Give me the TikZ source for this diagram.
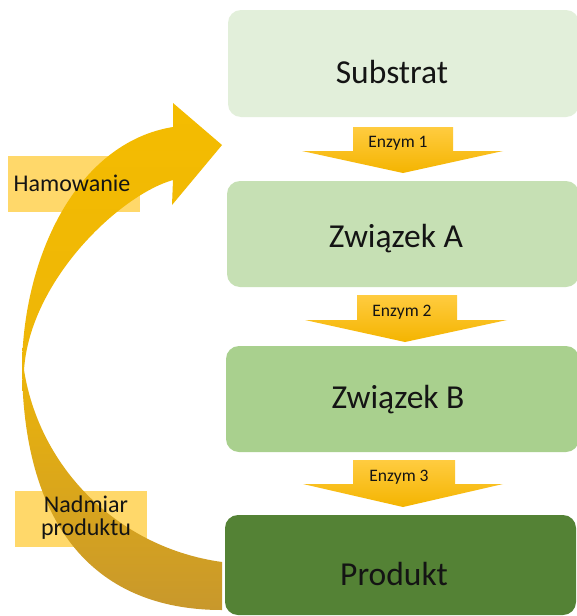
\documentclass[tikz,border=0pt]{standalone}
\usepackage{fontspec}
\setmainfont{Carlito}
\definecolor{cSub}{RGB}{226,239,218}
\definecolor{cA}{RGB}{198,224,180}
\definecolor{cB}{RGB}{169,208,142}
\definecolor{cProd}{RGB}{84,130,53}
\definecolor{goldTop}{RGB}{244,188,0}
\definecolor{goldMid}{RGB}{238,182,8}
\definecolor{goldBot}{RGB}{200,152,44}
\definecolor{enzTop}{RGB}{255,204,64}
\definecolor{enzBot}{RGB}{244,180,0}
\definecolor{labelBox}{RGB}{255,216,106}
\definecolor{txt}{RGB}{20,20,20}
\begin{document}
\begin{tikzpicture}[x=1pt,y=-1pt,
  stagebox/.style={fill=#1, draw=none, rounded corners=13pt},
  bigtext/.style={text=txt, font=\fontsize{33.5}{38}\selectfont},
  enztext/.style={text=txt, font=\fontsize{17.5}{20}\selectfont},
  sidetext/.style={text=txt, font=\fontsize{24}{28}\selectfont, align=center},
  enzarrow/.style={top color=enzTop, bottom color=enzBot, draw=none},
  sidebox/.style={fill=labelBox, draw=none}]
\useasboundingbox (0,0) rectangle (577,616);
\fill[white] (0,0) rectangle (577,616);

% stage boxes
\fill[stagebox=cSub] (228,10) rectangle (579,117);
\fill[stagebox=cA] (227,181) rectangle (579,287);
\fill[stagebox=cB] (226,346) rectangle (579,452);
\fill[stagebox=cProd] (225,515) rectangle (576,615);

\node[bigtext] (sub) at (392,72) {Substrat};
\node[bigtext] (zA) at (396,239) {Związek A};
\node[bigtext] (zB) at (398,400) {Związek B};
\node[bigtext] (prod) at (394,574) {Produkt};

% enzyme arrows
\path[enzarrow] (353,127) -- (453,127) -- (453,151) -- (503,151) -- (403,173) -- (302,151) -- (353,151) -- cycle;
\path[enzarrow] (357,295) -- (457,295) -- (457,320) -- (507,320) -- (405,342) -- (305,320) -- (357,320) -- cycle;
\path[enzarrow] (353,460) -- (455,460) -- (455,484) -- (503,484) -- (403,507) -- (303,484) -- (353,484) -- cycle;
\node[enztext] (e1) at (398,143) {Enzym 1};
\node[enztext] (e2) at (402,312) {Enzym 2};
\node[enztext] (e3) at (399,477) {Enzym 3};

% side label boxes
\fill[sidebox] (8,156) rectangle (140,212);
\fill[sidebox] (15,491) rectangle (147,547);

% curved feedback arrow
\path[top color=goldTop, bottom color=goldBot, middle color=goldMid, draw=none]
  (222,562) .. controls (120,548) and (40,470) .. (24,370)
  .. controls (30,280) and (120,195) .. (173,180)
  -- (172,205) -- (222,145) -- (173,103) -- (173,127)
  .. controls (80,142) and (25,250) .. (22,363)
  .. controls (22,520) and (90,610) .. (222,610) -- cycle;

\node[sidetext] (ham) at (72,183) {Hamowanie};
\node[sidetext] (nad) at (86,518) {Nadmiar\\[-5pt]produktu};
\end{tikzpicture}
\end{document}
